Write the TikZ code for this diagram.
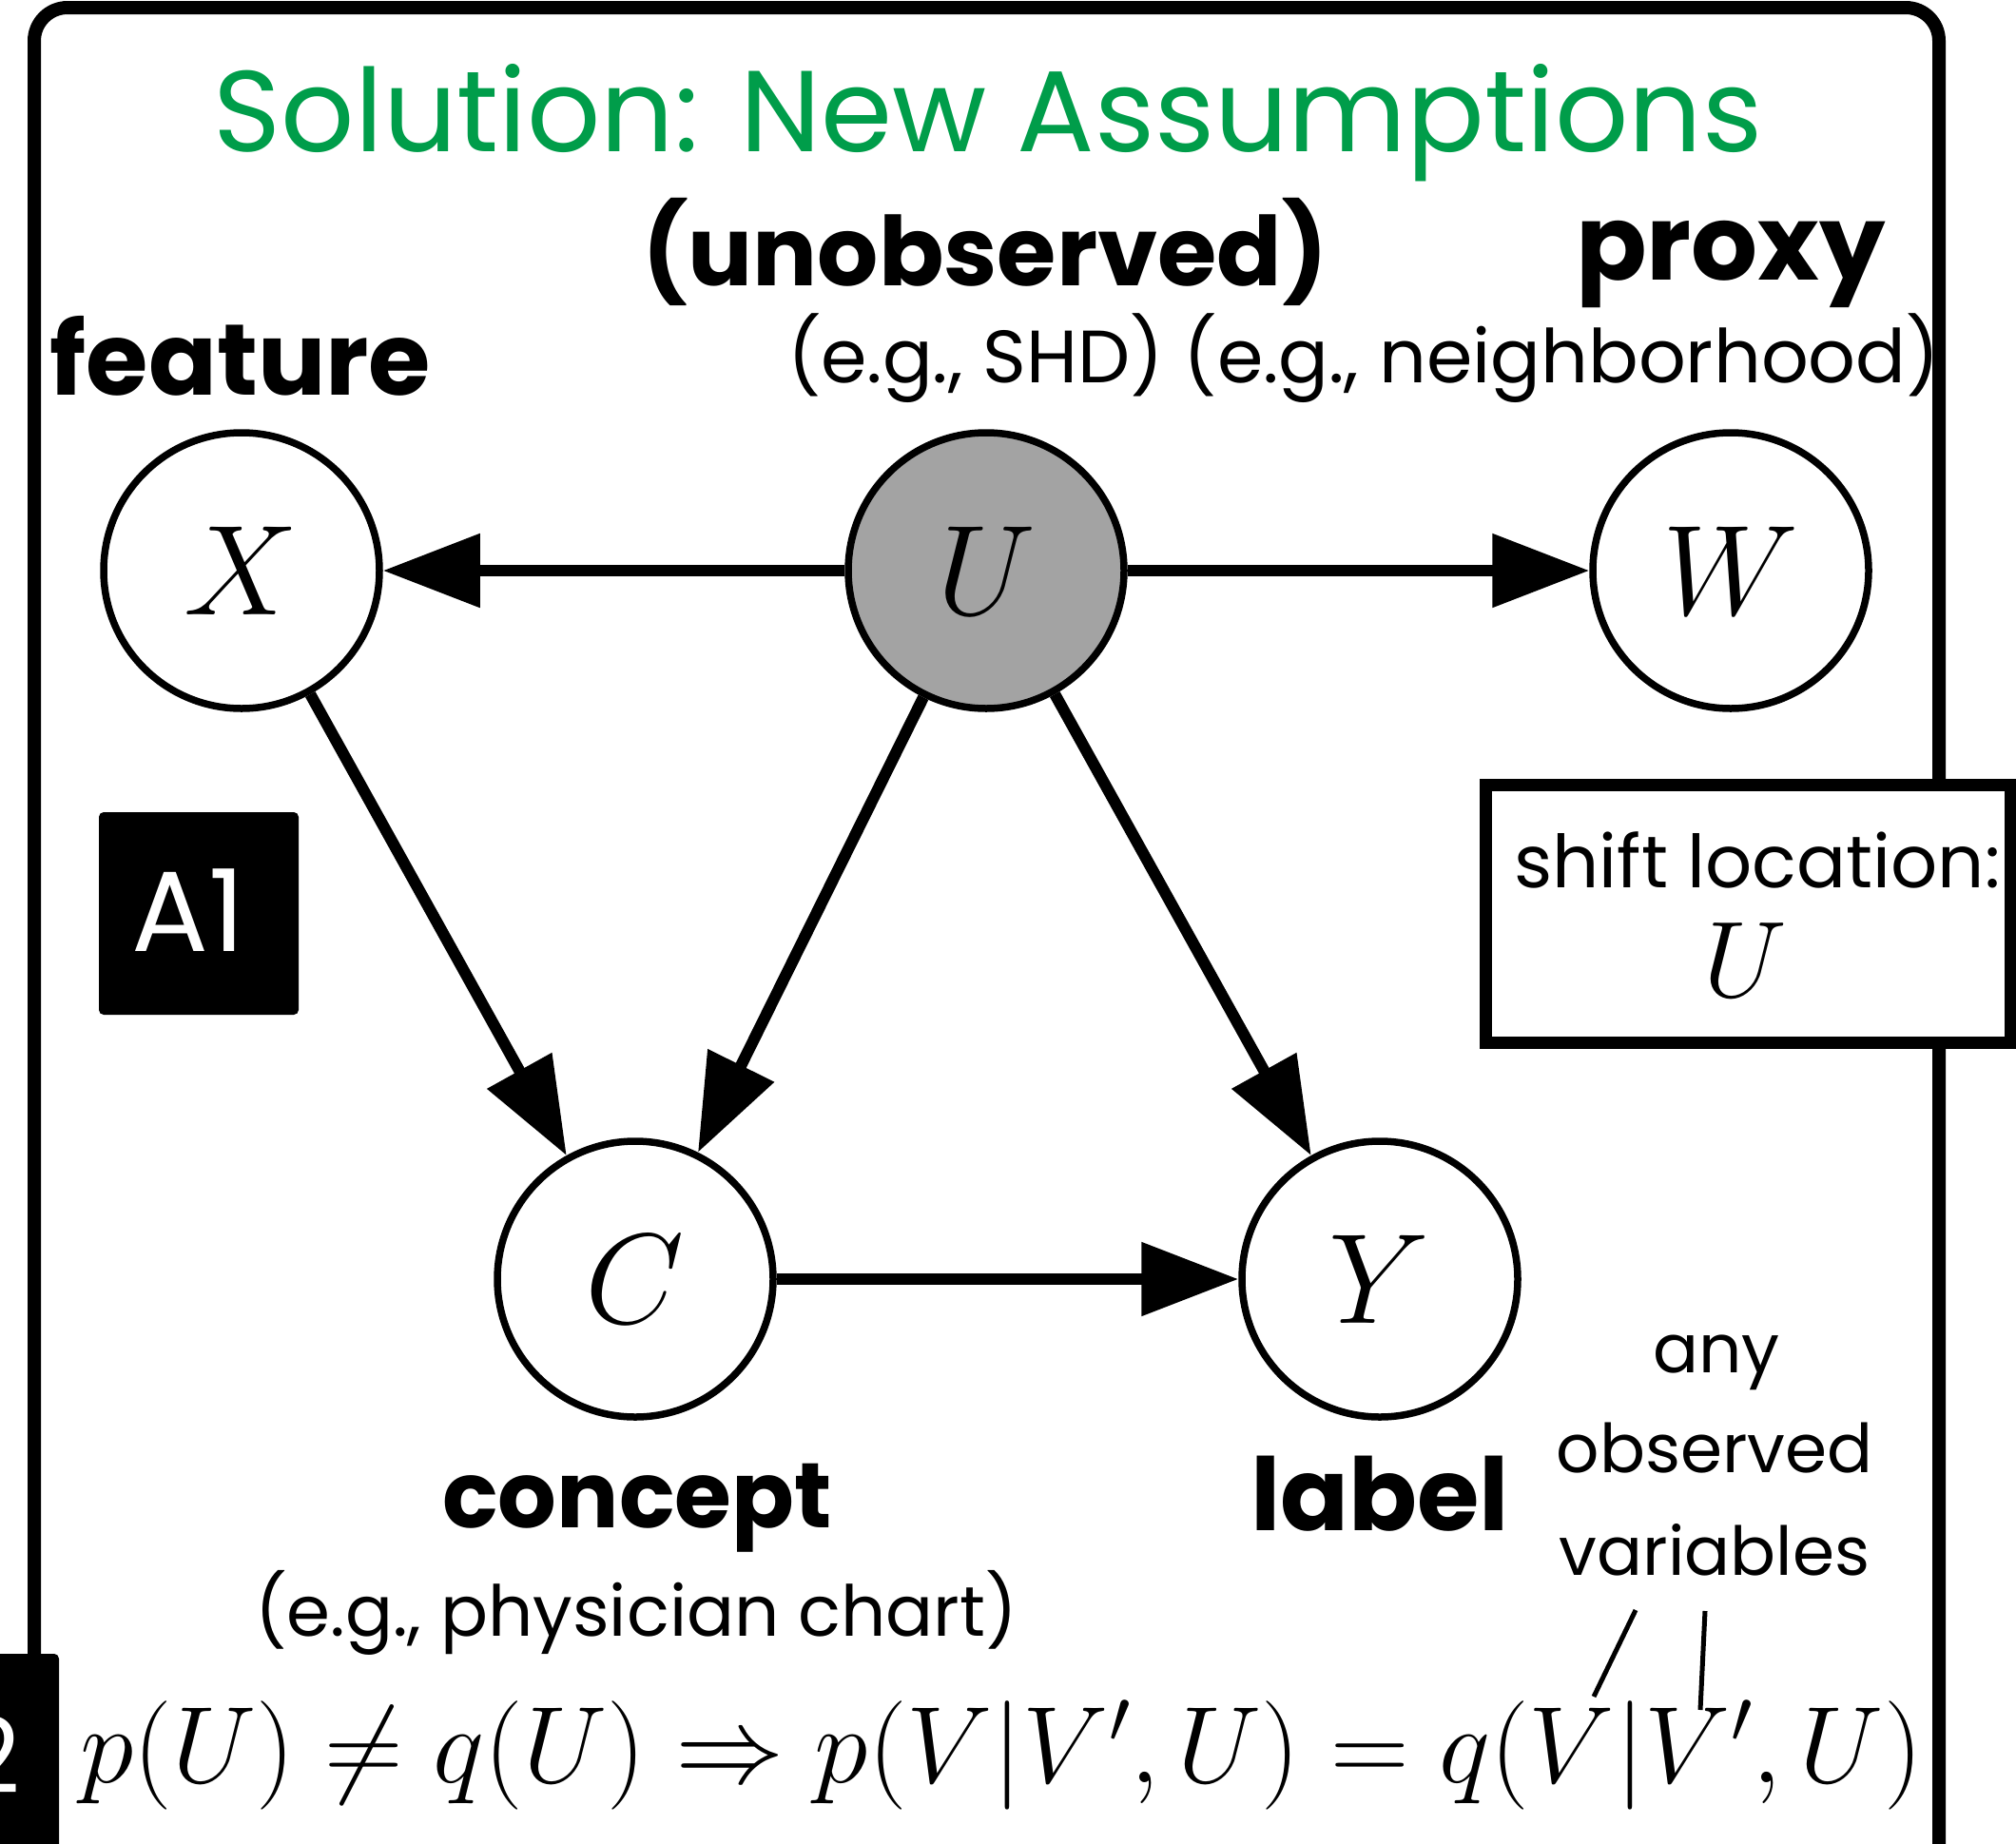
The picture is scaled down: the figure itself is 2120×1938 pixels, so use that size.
\RequirePackage{fix-cm}
\documentclass[tikz,border=0pt]{standalone}
\usepackage{fontspec}
\setmainfont{Poppins}
\usetikzlibrary{arrows.meta}
\definecolor{titlegreen}{RGB}{0,157,74}
\definecolor{latentgray}{RGB}{163,163,163}
\newcommand{\fsz}[1]{\fontsize{#1}{#1}\selectfont}
\tikzset{
  var/.style={circle, draw, line width=7.5pt, minimum size=290pt, inner sep=0pt,
    fill=white, font=\fsz{135}},
  latent/.style={var, fill=latentgray},
  causal/.style={line width=12pt, -{Triangle[length=102pt,width=75pt]}},
  heading/.style={font=\fsz{106}\bfseries, inner sep=0pt, anchor=base},
  note/.style={font=\fsz{78}, inner sep=0pt, anchor=base},
  tagbox/.style={fill=black, rounded corners=5pt},
  pointer/.style={line width=5pt},
}
\begin{document}
\begin{tikzpicture}[x=1pt,y=-1pt]
\useasboundingbox (0,0) rectangle (2120,1938);
\clip (0,0) rectangle (2120,1938);

% outer frame, open at the bottom
\draw[line width=14pt, rounded corners=35pt]
  (36,2100) -- (36,8) -- (2039,8) -- (2039,2100);

% title
\node[font=\fsz{121}, text=titlegreen, inner sep=0pt, anchor=base]
  (title) at (1039,159) {Solution: New Assumptions};

% variables
\node[var]    (X) at (254,600)  {$X$};
\node[latent] (U) at (1037,600) {$U$};
\node[var]    (W) at (1820,600) {$W$};
\node[var]    (C) at (668,1345) {$C$};
\node[var]    (Y) at (1451,1345) {$Y$};

% edges
\draw[causal] (U) -- (X);
\draw[causal] (U) -- (W);
\draw[causal] (X) -- (C);
\draw[causal] (U) -- (C);
\draw[causal] (U) -- (Y);
\draw[causal] (C) -- (Y);

% labels
\node[heading, font=\fsz{101}\bfseries] (unobs) at (1036,300) {(unobserved)};
\node[heading, font=\fsz{110}\bfseries] (proxy) at (1820,294) {proxy};
\node[note]    (eg)    at (1434,402) {(e.g., SHD) (e.g., neighborhood)};
\node[heading] (feat)  at (253,415) {feature};
\node[heading, font=\fsz{97}\bfseries] (conc) at (670,1606) {concept};
\node[note, font=\fsz{74}] (egc) at (669,1720) {(e.g., physician chart)};
\node[heading] (lab)   at (1451,1609) {label};
\node[note, font=\fsz{71}] (any)  at (1805,1443) {any};
\node[note, font=\fsz{71}] (obs)  at (1803,1548) {observed};
\node[note, font=\fsz{71}] (vars) at (1803,1656) {variables};

% assumption tag A1
\fill[tagbox] (104,854) rectangle (314,1067);
\node[font=\fsz{120}, text=white, inner sep=0pt, anchor=base] (a1) at (198,1000) {A1};

% shift location box
\draw[line width=13pt, fill=white] (1562,825) rectangle (2114,1096);
\node[note, font=\fsz{77}] (shiftlab) at (1848,933) {shift location:};
\node[font=\fsz{114}, inner sep=0pt, anchor=base] (shiftU) at (1835,1048) {$U$};

% assumption tag A2 (cut at the left edge)
\fill[tagbox] (-100,1739) rectangle (62,2050);
\node[font=\fsz{110}, text=white, inner sep=0pt, anchor=base east] (a2) at (22,1885) {2};

% formula
\node[font=\fsz{114.5}, inner sep=0pt, anchor=base west] (formula) at (84,1874)
  {$p(U) \neq q(U) \Rightarrow p(V|V',U) = q(V|V',U)$};

% pointers from the note to the variables in the formula
\coordinate (p1a) at (1720,1693);
\coordinate (p1b) at (1676,1784);
\coordinate (p2a) at (1793,1694);
\coordinate (p2b) at (1788,1798);
\draw[pointer] (p1a) -- (p1b);
\draw[pointer] (p2a) -- (p2b);
\end{tikzpicture}
\end{document}
